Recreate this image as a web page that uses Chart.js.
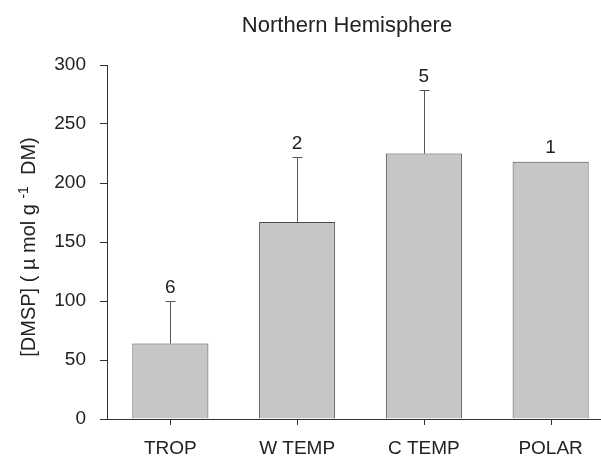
<!DOCTYPE html>
<html>
<head>
<meta charset="utf-8">
<script src="https://cdn.jsdelivr.net/npm/chart.js@4.4.1/dist/chart.umd.min.js"></script>
<style>
  html, body { margin: 0; padding: 0; background: #fff; overflow: hidden; }
  #wrap { position: relative; width: 614px; height: 456px; }
</style>
</head>
<body>
<div id="wrap"><canvas id="myChart"></canvas></div>
<script>
// values
var categories = ["TROP", "W TEMP", "C TEMP", "POLAR"];
var dmspMean = [64, 167, 225, 218];
var dmspErrTop = [100, 222, 279, null];
var sampleN = [6, 2, 5, 1];

var FONT = "'Liberation Sans', Arial, sans-serif";
var INK = "#222";

// category ticks, error bars, sample sizes, title and y-axis label
var annotate = {
  id: "annotate",
  afterDraw: function(chart) {
    var ctx = chart.ctx;
    var xs = chart.scales.x;
    var y = chart.scales.y;
    var meta = chart.getDatasetMeta(0);
    var base = Math.round(y.getPixelForValue(0));
    ctx.save();

    ctx.fillStyle = "#333";
    for (var k = 0; k < categories.length; k++) {
      var tx = Math.round(xs.getPixelForValue(k));
      ctx.fillRect(tx, base, 1, 6);
    }

    for (var i = 0; i < meta.data.length; i++) {
      var bar = meta.data[i];
      var top = bar.y;
      if (dmspErrTop[i] != null) {
        var ey = Math.round(y.getPixelForValue(dmspErrTop[i])) + 0.5;
        var bx = Math.round(bar.x) + 0.5;
        ctx.strokeStyle = "#555";
        ctx.lineWidth = 1;
        ctx.beginPath();
        ctx.moveTo(bx, top);
        ctx.lineTo(bx, ey);
        ctx.moveTo(bx - 5, ey);
        ctx.lineTo(bx + 5, ey);
        ctx.stroke();
        top = ey;
      }
      ctx.fillStyle = INK;
      ctx.font = "19px " + FONT;
      ctx.textAlign = "center";
      ctx.textBaseline = "alphabetic";
      ctx.fillText(String(sampleN[i]), bar.x, top - 9);
    }

    // title
    ctx.font = "22px " + FONT;
    ctx.fillText("Northern Hemisphere", 347, 32);

    // y axis title with superscript
    var parts = [
      { t: "[DMSP] ( \u00b5 mol g ", size: 20, dy: 0 },
      { t: "-1", size: 14, dy: -7 },
      { t: "  DM)", size: 20, dy: 0 }
    ];
    var total = 0;
    parts.forEach(function(p) {
      ctx.font = p.size + "px " + FONT;
      p.w = ctx.measureText(p.t).width;
      total += p.w;
    });
    ctx.translate(35, 247);
    ctx.rotate(-Math.PI / 2);
    ctx.textAlign = "left";
    var x = -total / 2;
    parts.forEach(function(p) {
      ctx.font = p.size + "px " + FONT;
      ctx.fillText(p.t, x, p.dy);
      x += p.w;
    });
    ctx.restore();
  }
};

var ctx = document.getElementById("myChart").getContext("2d");
var myChart = new Chart(ctx, {
  type: "bar",
  data: {
    labels: categories,
    datasets: [
      {
        label: "DMSP",
        data: dmspMean,
        backgroundColor: "#c5c6c8",
        borderColor: "#4a4a4a",
        borderWidth: 1,
        barPercentage: 0.6,
        categoryPercentage: 1
      }
    ]
  },
  options: {
    responsive: true,
    maintainAspectRatio: false,
    animation: false,
    devicePixelRatio: 1,
    layout: { padding: { top: 65, right: 0, bottom: 0, left: 0 } },
    plugins: {
      legend: { display: false },
      tooltip: { enabled: false },
      title: { display: false }
    },
    scales: {
      x: {
        grid: { display: false, tickLength: 6 },
        border: { display: true, color: "#333", width: 1 },
        ticks: { color: INK, font: { family: FONT, size: 19 }, padding: 12, maxRotation: 0 },
        afterFit: function(scale) { scale.height = 37; }
      },
      y: {
        min: 0,
        max: 300,
        grid: { display: true, drawOnChartArea: false, drawTicks: true, tickLength: 7, color: "#333" },
        border: { display: true, color: "#333", width: 1 },
        ticks: { stepSize: 50, color: INK, font: { family: FONT, size: 19 }, padding: 14 },
        afterFit: function(scale) { scale.width = 107; }
      }
    }
  },
  plugins: [annotate]
});
</script>
</body>
</html>
